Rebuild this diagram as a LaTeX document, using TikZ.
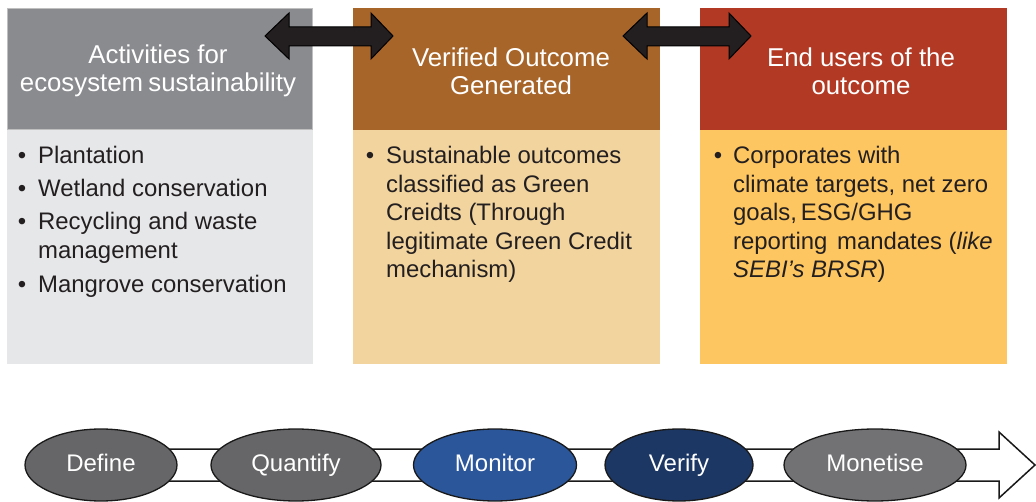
\documentclass[tikz,border=0pt]{standalone}
\usepackage{fontspec}
\setmainfont{Liberation Sans}
\usetikzlibrary{shapes.geometric}
\definecolor{hdgray}{HTML}{8A8B8F}
\definecolor{bdgray}{HTML}{E6E7E9}
\definecolor{hdbrown}{HTML}{A8652A}
\definecolor{bdbrown}{HTML}{F2D49E}
\definecolor{hdred}{HTML}{B23A25}
\definecolor{bdyellow}{HTML}{FDC660}
\definecolor{txt}{HTML}{231F20}
\definecolor{ovgray}{HTML}{666668}
\definecolor{ovblue}{HTML}{2B569A}
\definecolor{ovnavy}{HTML}{1D3764}
\definecolor{ovgray2}{HTML}{727275}
\begin{document}
\begin{tikzpicture}[x=1pt,y=-1pt,
  hdtext/.style={text=white,font=\fontsize{25.8}{28}\selectfont,align=center,inner sep=0},
  bodyline/.style={text=txt,font=\fontsize{23.9}{28}\selectfont,anchor=base west,inner sep=0},
  bul/.style={text=txt,font=\fontsize{23.9}{28}\selectfont,anchor=base,inner sep=0},
  oval/.style={ellipse,draw=black!90,line width=1.3pt,text=white,font=\fontsize{24}{26}\selectfont,inner sep=0,minimum height=72pt,text height=17pt,text depth=5pt},
  dblarrow/.style={fill=txt,draw=black,line width=1pt,line join=miter}
]
\useasboundingbox (0,0) rectangle (1036,502);
% boxes
\fill[hdgray] (7,8) rectangle (313,130);
\draw[black!25,line width=1pt] (7.5,8.5) rectangle (312.5,129.5);
\fill[bdgray] (7,130) rectangle (313,364);
\fill[hdbrown] (353,8) rectangle (660,130);
\fill[bdbrown] (353,130) rectangle (660,364);
\fill[hdred] (700,8) rectangle (1007,130);
\fill[bdyellow] (700,130) rectangle (1007,364);
% header texts
\node[hdtext] (h1) at (158,71) {Activities for\\ecosystem\hspace{-2pt} sustainability};
\node[hdtext] (h2) at (511,71) {Verified Outcome\\Generated};
\node[hdtext] (h3) at (861,71) {End users of the\\outcome};
% box 1 body
\node[bul] (b11) at (22,164) {•};
\node[bodyline] (l11) at (38,164) {Plantation};
\node[bul] (b12) at (22,197) {•};
\node[bodyline] (l12) at (38,197) {Wetland conservation};
\node[bul] (b13) at (22,230) {•};
\node[bodyline] (l13) at (38,230) {Recycling and waste};
\node[bodyline] (l14) at (38,259) {management};
\node[bul] (b15) at (22,293) {•};
\node[bodyline] (l15) at (38,293) {Mangrove conservation};
% box 2 body
\node[bul] (b21) at (370,164) {•};
\node[bodyline] (l21) at (386,164) {Sustainable outcomes};
\node[bodyline] (l22) at (386,193) {classified as Green};
\node[bodyline] (l23) at (386,221) {Creidts (Through};
\node[bodyline] (l24) at (386,250) {legitimate Green Credit};
\node[bodyline] (l25) at (386,278) {mechanism)};
% box 3 body
\node[bul] (b31) at (718,164) {•};
\node[bodyline] (l31) at (733,164) {Corporates with};
\node[bodyline] (l32) at (733,193) {climate targets, net zero};
\node[bodyline] (l33) at (733,221) {goals,\,ESG/GHG};
\node[bodyline] (l34) at (733,250) {reporting\hspace{3pt} mandates (\textit{like}};
\node[bodyline] (l35) at (733,278) {\textit{SEBI’s BRSR})};
% double arrows
\foreach \dx/\nm in {0/a1,358/a2}{
  \begin{scope}[xshift=\dx pt]
  \draw[dblarrow] (265,36) -- (289,13) -- (289,27) -- (371,27) -- (371,13) -- (393,36)
     -- (371,59) -- (371,46) -- (289,46) -- (289,59) -- cycle;
  \end{scope}
}
% bottom process arrow
\coordinate (tip) at (1035,465);
\draw[fill=white,draw=black!90,line width=1.5pt,line join=miter]
  (60,449) -- (999,449) -- (999,432) -- (tip) -- (999,498) -- (999,481) -- (60,481) -- cycle;
% ovals
\node[oval,fill=ovgray,minimum width=152pt] (define) at (101,465) {Define};
\node[oval,fill=ovgray,minimum width=170pt] (quantify) at (296,465) {Quantify};
\node[oval,fill=ovblue,minimum width=163pt] (monitor) at (495,465) {Monitor};
\node[oval,fill=ovnavy,minimum width=148pt] (verify) at (679,465) {Verify};
\node[oval,fill=ovgray2,minimum width=182pt] (monetise) at (875,465) {Monetise};
\end{tikzpicture}
\end{document}
